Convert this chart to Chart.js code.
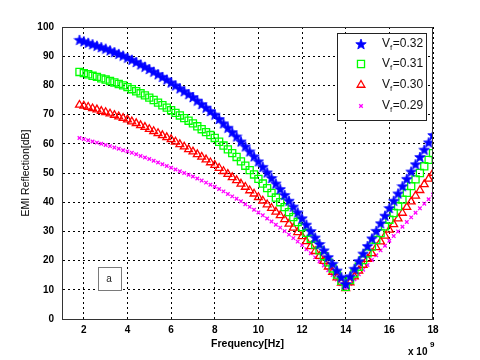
<!DOCTYPE html>
<html>
<head>
<meta charset="utf-8">
<script src="https://cdn.jsdelivr.net/npm/chart.js@4.4.1/dist/chart.umd.min.js"></script>
<style>
  html, body { margin: 0; padding: 0; background: #fff; }
  canvas { display: block; }
</style>
</head>
<body>
<canvas id="grafico" width="480" height="360"></canvas>
<script>
/* ------------ Datos ------------ */
const frecuencias = [
  1.8, 2.0, 2.2, 2.4, 2.6, 2.8, 3.0, 3.2, 3.4, 3.6, 3.8, 4.0, 4.2, 4.4, 4.6, 4.8,
  5.0, 5.2, 5.4, 5.6, 5.8, 6.0, 6.2, 6.4, 6.6, 6.8, 7.0, 7.2, 7.4, 7.6, 7.8, 8.0,
  8.2, 8.4, 8.6, 8.8, 9.0, 9.2, 9.4, 9.6, 9.8, 10.0, 10.2, 10.4, 10.6, 10.8, 11.0,
  11.2, 11.4, 11.6, 11.8, 12.0, 12.2, 12.4, 12.6, 12.8, 13.0, 13.2, 13.4, 13.6, 13.8,
  14.0, 14.2, 14.4, 14.6, 14.8, 15.0, 15.2, 15.4, 15.6, 15.8, 16.0, 16.2, 16.4, 16.6,
  16.8, 17.0, 17.2, 17.4, 17.6, 17.8, 18.0
];

const vf032 = [
  95.6, 95.1, 94.6, 94.1, 93.6, 93.1, 92.6, 92.0, 91.4, 90.8, 90.2, 89.5, 88.8, 88.0, 87.2, 86.4,
  85.6, 84.7, 83.8, 82.9, 82.0, 81.0, 80.0, 79.0, 78.0, 77.0, 76.0, 74.8, 73.6, 72.4, 71.2, 70.0,
  68.5, 67.0, 65.5, 64.0, 62.5, 60.8, 59.1, 57.4, 55.7, 54.0, 52.1, 50.2, 48.3, 46.4, 44.5,
  42.5, 40.5, 38.5, 36.5, 34.5, 32.3, 30.1, 27.9, 25.7, 23.5, 21.2, 18.9, 16.6, 14.3,
  12.0, 14.6, 17.2, 19.8, 22.4, 25.0, 27.6, 30.2, 32.8, 35.4, 38.0, 40.5, 43.0, 45.5,
  48.0, 50.5, 53.0, 55.5, 58.0, 60.5, 63.0
];

const vf031 = [
  84.6, 84.2, 83.8, 83.3, 82.9, 82.4, 82.0, 81.5, 81.0, 80.5, 80.0, 79.4, 78.7, 78.0, 77.3, 76.6,
  75.8, 75.0, 74.1, 73.2, 72.4, 71.5, 70.6, 69.7, 68.8, 67.9, 67.0, 66.0, 65.0, 64.0, 63.0, 62.0,
  60.7, 59.4, 58.1, 56.8, 55.5, 54.0, 52.5, 51.0, 49.5, 48.0, 46.4, 44.8, 43.2, 41.6, 40.0,
  38.3, 36.6, 34.9, 33.2, 31.5, 29.5, 27.5, 25.5, 23.5, 21.5, 19.4, 17.3, 15.2, 13.1,
  11.0, 13.3, 15.6, 17.9, 20.2, 22.5, 24.8, 27.1, 29.4, 31.7, 34.0, 36.3, 38.6, 40.9,
  43.2, 45.5, 47.8, 50.0, 52.3, 54.5, 56.8
];

const vf030 = [
  73.3, 73.0, 72.6, 72.1, 71.7, 71.2, 70.8, 70.3, 69.8, 69.3, 68.8, 68.3, 67.6, 67.0, 66.3, 65.7,
  65.0, 64.3, 63.6, 62.9, 62.2, 61.5, 60.7, 59.8, 59.0, 58.1, 57.3, 56.4, 55.5, 54.6, 53.6, 52.7,
  51.7, 50.6, 49.6, 48.5, 47.5, 46.3, 45.2, 44.0, 42.9, 41.7, 40.5, 39.2, 38.0, 36.7, 35.5,
  34.1, 32.6, 31.2, 29.7, 28.3, 26.6, 24.9, 23.2, 21.5, 19.8, 17.9, 16.1, 14.2, 12.4,
  10.5, 12.5, 14.5, 16.5, 18.5, 20.5, 22.5, 24.5, 26.5, 28.5, 30.5, 32.4, 34.4, 36.3,
  38.3, 40.2, 42.2, 44.1, 46.1, 48.0, 50.0
];

const vf029 = [
  62.0, 61.6, 61.2, 60.8, 60.4, 60.0, 59.6, 59.2, 58.7, 58.3, 57.8, 57.4, 56.9, 56.4, 55.8, 55.3,
  54.8, 54.2, 53.6, 53.0, 52.4, 51.8, 51.2, 50.6, 50.0, 49.4, 48.8, 48.1, 47.4, 46.7, 46.0, 45.3,
  44.5, 43.7, 42.8, 42.0, 41.2, 40.3, 39.3, 38.4, 37.4, 36.5, 35.5, 34.4, 33.4, 32.3, 31.3,
  30.1, 28.9, 27.7, 26.5, 25.3, 23.9, 22.5, 21.1, 19.7, 18.3, 16.7, 15.1, 13.5, 11.9,
  10.3, 12.0, 13.6, 15.3, 16.9, 18.5, 20.2, 21.8, 23.5, 25.1, 26.8, 28.4, 30.0, 31.6,
  33.2, 34.8, 36.4, 37.9, 39.5, 41.0, 42.6
];

const fraccionesVf = ["0.32", "0.31", "0.30", "0.29"];
const ticksX = [2, 4, 6, 8, 10, 12, 14, 16, 18];
const ticksY = [0, 10, 20, 30, 40, 50, 60, 70, 80, 90, 100];

/* ------------ Marcador estrella (pentagrama relleno) ------------ */
function crearEstrella(tam, color) {
  const c = document.createElement("canvas");
  c.width = c.height = tam;
  const g = c.getContext("2d");
  const cx = tam / 2, cy = tam / 2 + 0.5;
  const rExt = tam / 2 - 0.5, rInt = rExt * 0.42;
  g.beginPath();
  for (let i = 0; i < 10; i++) {
    const r = i % 2 ? rInt : rExt;
    const a = -Math.PI / 2 + i * Math.PI / 5;
    g.lineTo(cx + r * Math.cos(a), cy + r * Math.sin(a));
  }
  g.closePath();
  g.fillStyle = color;
  g.fill();
  g.strokeStyle = color;
  g.lineWidth = 0.8;
  g.stroke();
  return c;
}

const puntos = serie => frecuencias.map((f, i) => ({ x: f, y: serie[i] }));

const FUENTE = "'Liberation Sans', Arial, sans-serif";

/* ------------ Leyenda en caja, recuadro y textos extra ------------ */
const extrasPlugin = {
  id: "extras",
  beforeDatasetsDraw(chart) {
    const { ctx, chartArea: a } = chart;
    ctx.save();
    // caja "a"
    const bx = a.left + 36, by = a.bottom - 52;
    ctx.fillStyle = "#fff";
    ctx.fillRect(bx, by, 24, 24);
    ctx.strokeStyle = "#7a7a7a";
    ctx.lineWidth = 1;
    ctx.strokeRect(bx + 0.5, by + 0.5, 23, 23);
    ctx.fillStyle = "#222";
    ctx.font = "10px " + FUENTE;
    ctx.textAlign = "center";
    ctx.textBaseline = "middle";
    ctx.fillText("a", bx + 11, by + 12);
    ctx.restore();
  },
  afterDatasetsDraw(chart) {
    const { ctx, chartArea: a } = chart;
    ctx.save();
    // recuadro completo del área
    ctx.strokeStyle = "#333";
    ctx.lineWidth = 1;
    ctx.strokeRect(a.left + 0.5, a.top + 0.5, a.right - a.left - 1, a.bottom - a.top);

    // leyenda
    const lx = a.right - 96, ly = a.top + 6, lw = 89, lh = 87;
    ctx.fillStyle = "#fff";
    ctx.fillRect(lx, ly, lw, lh);
    ctx.strokeStyle = "#222";
    ctx.strokeRect(lx + 0.5, ly + 0.5, lw, lh);
    const filas = [11, 31, 52, 73];
    chart.data.datasets.forEach((ds, i) => {
      const y = ly + filas[i];
      ctx.fillStyle = ds.pointBackgroundColor;
      ctx.strokeStyle = ds.pointBorderColor;
      ctx.lineWidth = ds.pointBorderWidth;
      Chart.helpers.drawPoint(ctx, {
        pointStyle: ds.pointStyle,
        radius: ds.pointRadius,
        borderWidth: ds.pointBorderWidth,
        rotation: 0
      }, lx + 24, y);
      ctx.fillStyle = "#111";
      ctx.textBaseline = "middle";
      ctx.textAlign = "left";
      ctx.font = "12px " + FUENTE;
      let tx = lx + 45;
      ctx.fillText("V", tx, y);
      tx += ctx.measureText("V").width;
      ctx.font = "8px " + FUENTE;
      ctx.fillText("f", tx, y + 4);
      tx += ctx.measureText("f").width + 0.5;
      ctx.font = "12px " + FUENTE;
      ctx.fillText("=" + fraccionesVf[i], tx, y);
    });

    // multiplicador del eje x
    ctx.fillStyle = "#000";
    ctx.textAlign = "left";
    ctx.textBaseline = "alphabetic";
    ctx.font = "bold 10px " + FUENTE;
    ctx.fillText("x 10", a.right - 25, 355);
    ctx.font = "bold 8px " + FUENTE;
    ctx.fillText("9", a.right - 3, 347);
    ctx.restore();
  }
};

/* ------------ Gráfico ------------ */
new Chart(document.getElementById("grafico"), {
  type: "line",
  data: {
    datasets: [
      {
        label: "Vf=0.32",
        data: puntos(vf032),
        showLine: false,
        pointStyle: crearEstrella(12, "#0000ff"),
        pointRadius: 5,
        pointBorderWidth: 1,
        pointBackgroundColor: "#0000ff",
        pointBorderColor: "#0000ff"
      },
      {
        label: "Vf=0.31",
        data: puntos(vf031),
        showLine: false,
        pointStyle: "rect",
        pointRadius: 5,
        pointBorderWidth: 1.3,
        pointBackgroundColor: "rgba(0,0,0,0)",
        pointBorderColor: "#00ff00"
      },
      {
        label: "Vf=0.30",
        data: puntos(vf030),
        showLine: false,
        pointStyle: "triangle",
        pointRadius: 4.5,
        pointBorderWidth: 1.3,
        pointBackgroundColor: "rgba(0,0,0,0)",
        pointBorderColor: "#ff0000"
      },
      {
        label: "Vf=0.29",
        data: puntos(vf029),
        showLine: false,
        pointStyle: "crossRot",
        pointRadius: 2.5,
        pointBorderWidth: 1.3,
        pointBackgroundColor: "#ff00ff",
        pointBorderColor: "#ff00ff"
      }
    ]
  },
  options: {
    responsive: false,
    animation: false,
    events: [],
    layout: { padding: { left: 0, top: 27, right: 47, bottom: 0 } },
    plugins: {
      legend: { display: false },
      tooltip: { enabled: false }
    },
    scales: {
      x: {
        type: "linear",
        min: 1,
        max: 18,
        afterBuildTicks: s => { s.ticks = ticksX.map(v => ({ value: v })); },
        afterFit: s => { s.height = 41; },
        grid: { color: "#000", lineWidth: 1, drawTicks: false },
        border: { color: "#333", width: 1, dash: [2, 3] },
        ticks: {
          color: "#000",
          padding: 5,
          maxRotation: 0,
          font: { family: FUENTE, size: 10, weight: "bold" }
        },
        title: {
          display: true,
          text: "Frequency[Hz]",
          color: "#000",
          padding: { top: 0, bottom: 10 },
          font: { family: FUENTE, size: 10.5, weight: "bold" }
        }
      },
      y: {
        min: 0,
        max: 100,
        afterBuildTicks: s => { s.ticks = ticksY.map(v => ({ value: v })); },
        afterFit: s => { s.width = 62; },
        grid: { color: "#000", lineWidth: 1, drawTicks: false },
        border: { color: "#333", width: 1, dash: [2, 3] },
        ticks: {
          color: "#000",
          padding: 8,
          font: { family: FUENTE, size: 10, weight: "bold" }
        },
        title: {
          display: true,
          text: "EMI Reflection[dB]",
          color: "#000",
          padding: { top: 20, bottom: 0 },
          font: { family: FUENTE, size: 10.5 }
        }
      }
    }
  },
  plugins: [extrasPlugin]
});
</script>
</body>
</html>
